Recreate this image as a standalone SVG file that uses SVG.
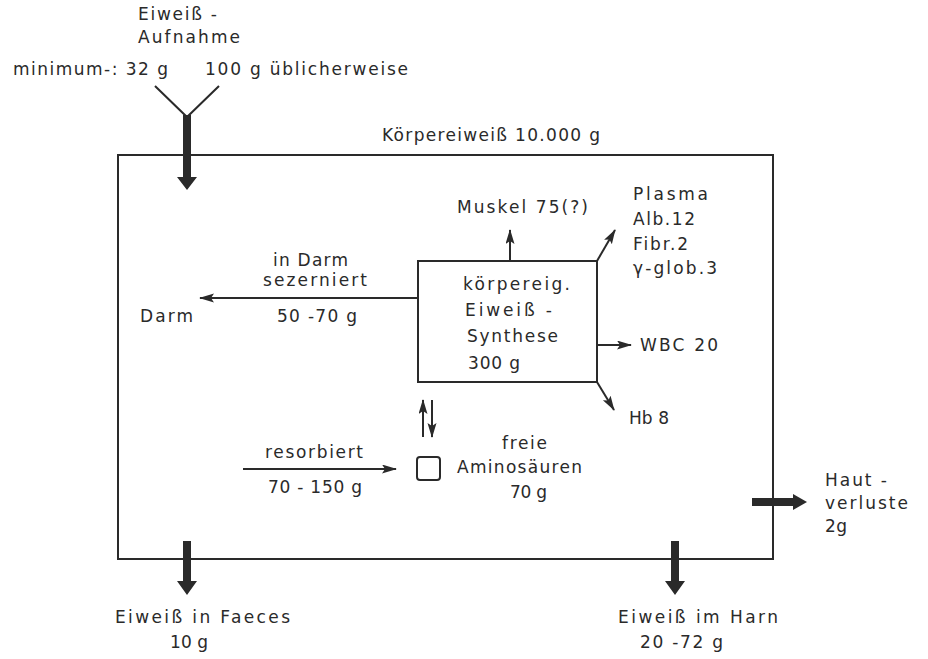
<svg xmlns="http://www.w3.org/2000/svg" width="928" height="659" viewBox="0 0 928 659">
<defs>
<style>
text{font-family:"DejaVu Sans","Liberation Sans",sans-serif;font-size:17px;fill:#2a2a2a}
.ln{stroke:#2a2a2a;stroke-width:2;fill:none}
.th{fill:#2a2a2a;stroke:none}
</style>
<marker id="ah" markerUnits="userSpaceOnUse" markerWidth="16" markerHeight="10" refX="14" refY="4.5" orient="auto">
<path d="M0,0 L15,4.5 L0,9 L3,4.5 z" fill="#2a2a2a"/>
</marker>
</defs>
<rect width="928" height="659" fill="#fff"/>

<g id="koerper">
<rect x="118" y="155" width="655" height="404" class="ln"/>
<text x="382" y="141" textLength="218" lengthAdjust="spacing">Körpereiweiß 10.000 g</text>
</g>

<g id="aufnahme">
<text x="138" y="20" textLength="79" lengthAdjust="spacing">Eiweiß -</text>
<text x="138" y="43" textLength="102" lengthAdjust="spacing">Aufnahme</text>
<text x="13" y="75" textLength="155" lengthAdjust="spacing">minimum-: 32 g</text>
<text x="205" y="75" textLength="203" lengthAdjust="spacing">100 g üblicherweise</text>
</g>

<g id="synthese">
<rect x="418" y="261" width="179" height="121" class="ln"/>
<text x="463" y="290" textLength="107" lengthAdjust="spacing">körpereig.</text>
<text x="465" y="316" textLength="87" lengthAdjust="spacing">Eiweiß -</text>
<text x="467" y="342" textLength="91" lengthAdjust="spacing">Synthese</text>
<text x="468" y="369" textLength="52" lengthAdjust="spacing">300 g</text>
</g>

<g id="muskel"><text x="457" y="213" textLength="131" lengthAdjust="spacing">Muskel 75(?)</text></g>

<g id="plasma">
<text x="633" y="200" textLength="75" lengthAdjust="spacing">Plasma</text>
<text x="633" y="225" textLength="62" lengthAdjust="spacing">Alb.12</text>
<text x="633" y="250" textLength="55" lengthAdjust="spacing">Fibr.2</text>
<text x="633" y="274" textLength="84" lengthAdjust="spacing">γ-glob.3</text>
</g>

<g id="wbc"><text x="640" y="351" textLength="78" lengthAdjust="spacing">WBC 20</text></g>
<g id="hb"><text x="629" y="424" textLength="40" lengthAdjust="spacing">Hb 8</text></g>

<g id="darm">
<text x="140" y="322" textLength="53" lengthAdjust="spacing">Darm</text>
</g>
<g id="darm-label">
<text x="273" y="266" textLength="75" lengthAdjust="spacing">in Darm</text>
<text x="263" y="286" textLength="104" lengthAdjust="spacing">sezerniert</text>
<text x="277" y="322" textLength="80" lengthAdjust="spacing">50 -70 g</text>
</g>

<g id="resorbiert">
<text x="265" y="458" textLength="98" lengthAdjust="spacing">resorbiert</text>
<text x="268" y="493" textLength="94" lengthAdjust="spacing">70 - 150 g</text>
</g>

<g id="aminosaeuren">
<rect x="417" y="457" width="23" height="23" rx="3" class="ln"/>
<text x="502" y="449" textLength="45" lengthAdjust="spacing">freie</text>
<text x="457" y="473" textLength="125" lengthAdjust="spacing">Aminosäuren</text>
<text x="510" y="498" textLength="37" lengthAdjust="spacing">70 g</text>
</g>

<g id="haut">
<text x="825" y="486" textLength="62" lengthAdjust="spacing">Haut -</text>
<text x="825" y="509" textLength="83" lengthAdjust="spacing">verluste</text>
<text x="825" y="532" textLength="22" lengthAdjust="spacing">2g</text>
</g>

<g id="faeces">
<text x="115" y="623" textLength="175" lengthAdjust="spacing">Eiweiß in Faeces</text>
<text x="170" y="648" textLength="38" lengthAdjust="spacing">10 g</text>
</g>

<g id="harn">
<text x="618" y="623" textLength="160" lengthAdjust="spacing">Eiweiß im Harn</text>
<text x="640" y="648" textLength="83" lengthAdjust="spacing">20 -72 g</text>
</g>

<g id="connectors">
<path class="ln" d="M155,86 L187,117 L219,86" stroke-width="3"/>
<path class="th" d="M183,115 L191,115 L191,177 L197,177 L187,190 L177,177 L183,177 z"/>
<line class="ln" x1="510" y1="261" x2="510" y2="230" marker-end="url(#ah)"/>
<line class="ln" x1="597" y1="261" x2="615" y2="230" marker-end="url(#ah)"/>
<line class="ln" x1="597" y1="345" x2="631" y2="345" marker-end="url(#ah)"/>
<line class="ln" x1="597" y1="382" x2="614" y2="410" marker-end="url(#ah)"/>
<line class="ln" x1="418" y1="298" x2="200" y2="298" marker-end="url(#ah)"/>
<line class="ln" x1="423" y1="437" x2="423" y2="400" marker-end="url(#ah)"/>
<line class="ln" x1="432" y1="400" x2="432" y2="437" marker-end="url(#ah)"/>
<line class="ln" x1="243" y1="469" x2="396" y2="469" marker-end="url(#ah)"/>
<path class="th" d="M752,498 L793,498 L793,494 L807,502 L793,510 L793,506 L752,506 z"/>
<path class="th" d="M183,541 L191,541 L191,581 L197,581 L187,595 L177,581 L183,581 z"/>
<path class="th" d="M671,541 L679,541 L679,581 L685,581 L675,595 L665,581 L671,581 z"/>
</g>
</svg>
